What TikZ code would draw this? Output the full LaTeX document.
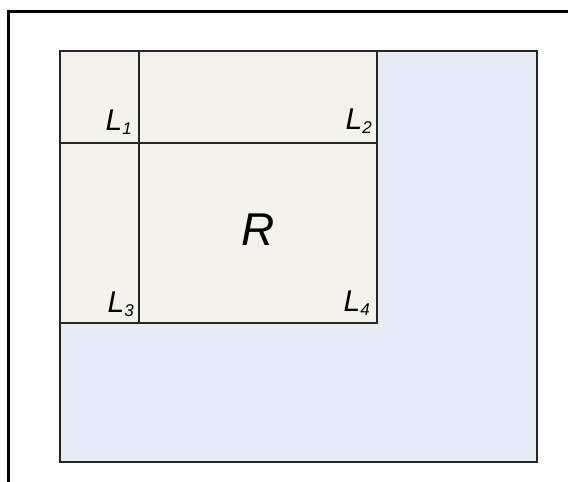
\documentclass[tikz,border=0pt]{standalone}
\usepackage{fontspec}
\setmainfont{Liberation Sans}
\usetikzlibrary{calc}
\definecolor{cellcream}{HTML}{F3F3EC}
\definecolor{outerblue}{HTML}{E6ECF6}
\tikzset{
  frame line/.style={
    line width=3pt,
    color=black
  },
  cell line/.style={
    line width=1.7pt,
    color=black!85
  },
  corner label/.style={
    anchor=base east,
    inner sep=0pt,
    font=\fontsize{30}{30}\selectfont\itshape
  },
  region label/.style={
    inner sep=0pt,
    font=\fontsize{46}{46}\selectfont\itshape
  }
}
\newcommand{\lsub}[1]{\raisebox{-0.28ex}{\fontsize{17}{17}\selectfont\itshape #1}}

\begin{document}
\begin{tikzpicture}[x=1pt, y=-1pt]
    \clip (0,0) rectangle (568,482);

    % outer frame (cut off at right and bottom)
    \draw[frame line] (8.5,500) -- (8.5,11.3) -- (600,11.3);

    % whole region
    \coordinate (TL) at (60,51);
    \coordinate (BR) at (537,462);
    \draw[cell line, fill=outerblue] (TL) rectangle (BR);

    % inner block with the four parts
    \coordinate (IBR) at (377,323);
    \draw[cell line, fill=cellcream] (TL) rectangle (IBR);
    \draw[cell line] (139,51) -- (139,323);
    \draw[cell line] (60,143) -- (377,143);

    % labels
    \node[corner label] (L1) at (132,130) {L\lsub{1}};
    \node[corner label] (L2) at (372,129) {L\lsub{2}};
    \node[corner label] (L3) at (134,312) {L\lsub{3}};
    \node[corner label] (L4) at (370,311) {L\lsub{4}};
    \node[region label] (R) at (258,230) {R};

\end{tikzpicture}
\end{document}
